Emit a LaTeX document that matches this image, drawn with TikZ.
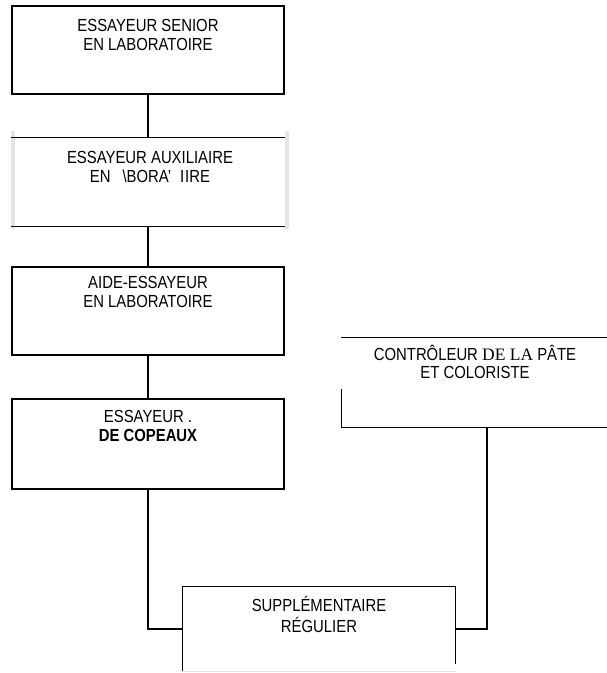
\documentclass[tikz,border=0pt]{standalone}
\usepackage{fontspec}
\setmainfont{Liberation Sans}[FakeStretch=0.85]
\newfontfamily\serifpart{Liberation Serif}
\usetikzlibrary{positioning, calc}

\tikzset{
  post/.style={minimum width=272pt, minimum height=88pt, inner sep=0pt},
  title/.style={align=center, anchor=base, inner sep=0pt,
    font=\fontsize{17.5}{19}\selectfont},
  faded/.style={gray!20, line width=4pt}
}

\begin{document}
\begin{tikzpicture}[x=1pt, y=-1pt, line width=1.2pt]
      \useasboundingbox (0,0) rectangle (606,673);

      % left column of posts
      \node[post, draw] (senior) at (148,50) {};
      \node[post] (auxil) at (148,182) {};
      \node[post, draw] (aide) at (148,311) {};
      \node[post, draw, minimum height=90pt] (chips) at (148,444) {};

      % right post, runs off the page
      \node[post, minimum width=270pt, minimum height=89pt] (paste) at (477,382.5) {};

      % bottom post
      \node[post, minimum height=84pt] (extra) at (319,629) {};

      % scanned edges of the faded post
      \draw[faded] ($(auxil.north west)+(2,-6)$) -- ($(auxil.south west)+(2,2)$);
      \draw[faded] ($(auxil.north east)+(2,-6)$) -- ($(auxil.south east)+(2,2)$);
      \draw (auxil.north west) -- (auxil.north east);
      \draw (auxil.south west) -- (auxil.south east);

      % open edges of the right and bottom posts
      \draw (paste.north west) -- (paste.north east);
      \draw (paste.south west) -- (paste.south east);
      \draw ($(paste.south west)+(0,-39)$) -- (paste.south west);
      \draw (extra.south west) -- (extra.north west) -- (extra.north east)
        -- ($(extra.south east)+(0,-8)$);
      \draw[gray!25, line width=0.8pt] (extra.south west) -- (extra.south east);

      % titles (base = second line)
      \node[title] (seniortext) at ($(senior.north)+(0,45)$)
        {ESSAYEUR SENIOR\\EN LABORATOIRE};
      \node[title] (auxiltext) at ($(auxil.north)+(2,45)$)
        {ESSAYEUR AUXILIAIRE\\EN\hspace{12pt}{\textbackslash}BORA'\hspace{9pt}I\hspace{1pt}IRE};
      \node[title] (aidetext) at ($(aide.north)+(0,41)$)
        {AIDE-ESSAYEUR\\EN LABORATOIRE};
      \node[title] (chipstext) at ($(chips.north)+(0,43)$)
        {ESSAYEUR\hspace{4pt}.\\\textbf{DE COPEAUX}};
      \node[title, font=\fontsize{17.5}{18}\selectfont] (pastetext) at ($(paste.north)+(-2,41)$)
        {CONTRÔLEUR {\serifpart DE LA} PÂTE\\ET COLORISTE};
      \node[title, font=\fontsize{17.5}{21}\selectfont] (extratext) at ($(extra.north)+(0,46)$)
        {SUPPLÉMENTAIRE\\RÉGULIER};

      % connectors
      \foreach \a/\b in {senior/auxil, auxil/aide, aide/chips}
        \draw (\a) -- (\b);
      \coordinate (pasteout) at ($(paste.south)+(10,0)$);
      \draw (chips.south) |- (extra.west);
      \draw (pasteout) |- (extra.east);

    \end{tikzpicture}
\end{document}
